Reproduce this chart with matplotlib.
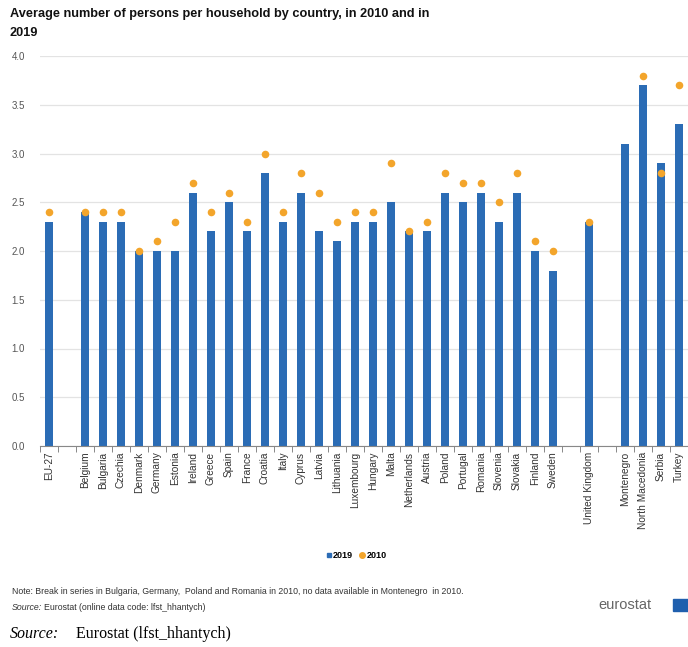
import matplotlib.pyplot as plt
from matplotlib.lines import Line2D
from matplotlib.patches import Rectangle
import numpy as np

plt.rcParams['font.family'] = ['Liberation Sans', 'DejaVu Sans']

# slot index on the x axis (gaps left between country groups)
positions = [0, 2, 3, 4, 5, 6, 7, 8, 9, 10, 11, 12, 13, 14, 15, 16, 17, 18,
             19, 20, 21, 22, 23, 24, 25, 26, 27, 28, 30, 32, 33, 34, 35]
countries = ['EU-27', 'Belgium', 'Bulgaria', 'Czechia', 'Denmark', 'Germany',
             'Estonia', 'Ireland', 'Greece', 'Spain', 'France', 'Croatia',
             'Italy', 'Cyprus', 'Latvia', 'Lithuania', 'Luxembourg', 'Hungary',
             'Malta', 'Netherlands', 'Austria', 'Poland', 'Portugal', 'Romania',
             'Slovenia', 'Slovakia', 'Finland', 'Sweden', 'United Kingdom',
             'Montenegro', 'North Macedonia', 'Serbia', 'Turkey']
values_2019 = [2.3, 2.4, 2.3, 2.3, 2.0, 2.0, 2.0, 2.6, 2.2, 2.5, 2.2, 2.8,
               2.3, 2.6, 2.2, 2.1, 2.3, 2.3, 2.5, 2.2, 2.2, 2.6, 2.5, 2.6,
               2.3, 2.6, 2.0, 1.8, 2.3, 3.1, 3.7, 2.9, 3.3]
values_2010 = [2.4, 2.4, 2.4, 2.4, 2.0, 2.1, 2.3, 2.7, 2.4, 2.6, 2.3, 3.0,
               2.4, 2.8, 2.6, 2.3, 2.4, 2.4, 2.9, 2.2, 2.3, 2.8, 2.7, 2.7,
               2.5, 2.8, 2.1, 2.0, 2.3, np.nan, 3.8, 2.8, 3.7]

BLUE = '#2b6cb5'
ORANGE = '#f3a52b'

fig = plt.figure(figsize=(6.88, 6.47), dpi=100)
ax = fig.add_axes([40 / 688, 1 - 446 / 647, 648 / 688, 390 / 647])

ax.bar(positions, values_2019, width=0.45, color=BLUE, zorder=2)
ax.scatter(positions, values_2010, s=30, color=ORANGE, zorder=3, linewidths=0)

ax.set_xlim(-0.5, 35.1)
ax.set_ylim(0, 4.0)
ax.set_yticks(np.arange(0, 4.01, 0.5))
ax.set_yticklabels([f'{v:.1f}' for v in np.arange(0, 4.01, 0.5)])
ax.grid(axis='y', color='#e3e3e3', linewidth=0.9, zorder=0)
ax.set_axisbelow(True)

for side in ['top', 'right', 'left']:
    ax.spines[side].set_visible(False)
ax.spines['bottom'].set_color('#888888')
ax.spines['bottom'].set_linewidth(0.8)

ax.set_xticks(positions)
ax.set_xticklabels(countries, rotation=90, fontsize=7.3, color='#333333')
ax.set_xticks(np.arange(-0.5, 36, 1), minor=True)
ax.tick_params(axis='x', which='major', length=0, pad=4)
ax.tick_params(axis='x', which='minor', length=4, color='#888888', width=0.7)
ax.tick_params(axis='y', length=0, labelsize=7, labelcolor='#555555', pad=11)

fig.text(10 / 688, 1 - 14 / 647,
         'Average number of persons per household by country, in 2010 and in',
         fontsize=9.2, fontweight='bold', va='center', ha='left', color='#111111')
fig.text(10 / 688, 1 - 33 / 647, '2019',
         fontsize=9.2, fontweight='bold', va='center', ha='left', color='#111111')

handles = [
    Line2D([], [], marker='s', linestyle='none', color=BLUE, markersize=3.5),
    Line2D([], [], marker='o', linestyle='none', color=ORANGE, markersize=4),
]
fig.legend(handles, ['2019', '2010'], loc='center', ncol=2,
           bbox_to_anchor=(356 / 688, 1 - 556 / 647), frameon=False,
           handletextpad=0.1, columnspacing=0.6, handlelength=0.8,
           prop={'size': 6.5, 'weight': 'bold'})

fig.text(12 / 688, 1 - 591 / 647,
         'Note: Break in series in Bulgaria, Germany,  Poland and Romania in 2010, '
         'no data available in Montenegro  in 2010.',
         fontsize=6.3, color='#333333', va='center', ha='left')
fig.text(12 / 688, 1 - 607 / 647, 'Source:', fontsize=6.3, color='#333333',
         va='center', ha='left', style='italic')
fig.text(44 / 688, 1 - 607 / 647, 'Eurostat (online data code: lfst_hhantych)',
         fontsize=6.3, color='#333333', va='center', ha='left')

# eurostat wordmark at the lower right
fig.text(598 / 688, 1 - 605 / 647, 'eurostat', fontsize=10.5,
         color='#666666', va='center', ha='left')
fig.patches.append(Rectangle((673 / 688, 1 - 611 / 647), 15 / 688, 12 / 647,
                             transform=fig.transFigure, color='#1f5fae'))

fig.text(10 / 688, 1 - 634 / 647, 'Source:', family='Liberation Serif',
         style='italic', fontsize=11.5, va='center', ha='left')
fig.text(76 / 688, 1 - 634 / 647, 'Eurostat (lfst_hhantych)',
         family='Liberation Serif', fontsize=11.5, va='center', ha='left')

fig.savefig('out.png', dpi=100, facecolor='white')
